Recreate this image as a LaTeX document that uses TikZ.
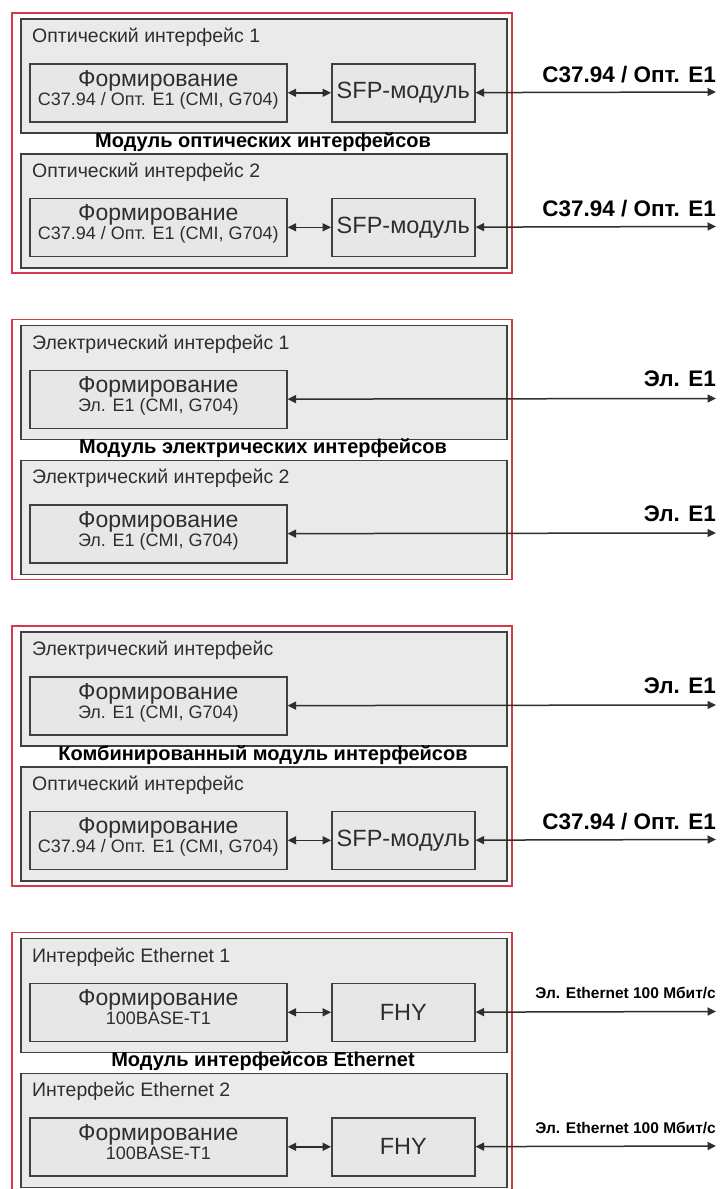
\documentclass[tikz,border=0pt]{standalone}
\usepackage{fontspec}
\setmainfont{Liberation Sans}
\usetikzlibrary{arrows.meta}

\definecolor{redframe}{HTML}{D8394A}
\definecolor{panelfill}{HTML}{EAEAEA}
\definecolor{boxfill}{HTML}{E7E7E7}
\definecolor{edge}{HTML}{3C423E}
\definecolor{ink}{HTML}{2E2E2E}

\newcommand\fsz[1]{\fontsize{#1}{#1}\selectfont}

\tikzset{
  frame/.style={draw=redframe, line width=1.4pt},
  panel/.style={draw=edge, fill=panelfill, line width=1.8pt, anchor=north west,
    minimum width=486pt, minimum height=114pt, inner sep=0pt},
  formbox/.style={draw=edge, fill=boxfill, line width=1.6pt, anchor=north west,
    minimum width=257pt, minimum height=58pt, inner sep=0pt},
  sfpbox/.style={formbox, minimum width=143pt, font=\fsz{23.5}, text=ink},
  paneltitle/.style={anchor=base west, inner sep=0pt, font=\fsz{19.5}, text=ink},
  modtitle/.style={anchor=base, inner sep=0pt, font=\bfseries\fsz{20}, text=black},
  formmain/.style={anchor=base, inner sep=0pt, font=\fsz{23}, text=ink},
  formsub/.style={anchor=base, inner sep=0pt, font=\fsz{18}, text=ink},
  linelabel/.style={anchor=base east, inner sep=0pt, font=\bfseries\fsz{22.5}, text=black},
  ethlabel/.style={anchor=base east, inner sep=0pt, font=\bfseries\fsz{15.5}, text=black},
  link/.style={draw=ink, line width=1.5pt,
    {Triangle[length=8.5pt,width=8pt]}-{Triangle[length=8.5pt,width=8pt]}},
}

\begin{document}
\begin{tikzpicture}[x=1pt,y=-1pt]
\useasboundingbox (0,0) rectangle (721,1189);
\clip (0,0) rectangle (721,1189);

% ---------- optical interface module ----------
\draw[frame] (12,13) rectangle (512,273);
\node[panel] (p1a) at (20,18) {};
\node[paneltitle] (t1a) at (32,42.5) {Оптический интерфейс 1};
\node[formbox] (f1a) at (29,63) {};
\node[formmain] (f1am) at ([yshift=-23pt]f1a.north) {Формирование};
\node[formsub] (f1as) at ([yshift=-42pt]f1a.north) {C37.94 / Опт. E1 (CMI, G704)};
\node[sfpbox] (s1a) at (331,63) {SFP-модуль};
\coordinate (e1a) at (716,92);
\node[linelabel] (l1a) at (716,82) {C37.94 / Опт. E1};
\draw[link] (f1a) -- (s1a);
\draw[link] (s1a) -- (e1a);

\node[modtitle] (m1) at (263,147) {Модуль оптических интерфейсов};

\node[panel] (p1b) at (20,153) {};
\node[paneltitle] (t1b) at (32,177) {Оптический интерфейс 2};
\node[formbox] (f1b) at (29,197.5) {};
\node[formmain] (f1bm) at ([yshift=-23pt]f1b.north) {Формирование};
\node[formsub] (f1bs) at ([yshift=-42pt]f1b.north) {C37.94 / Опт. E1 (CMI, G704)};
\node[sfpbox] (s1b) at (331,197.5) {SFP-модуль};
\coordinate (e1b) at (716,226.5);
\node[linelabel] (l1b) at (716,216.5) {C37.94 / Опт. E1};
\draw[link] (f1b) -- (s1b);
\draw[link] (s1b) -- (e1b);

% ---------- electrical interface module ----------
\begin{scope}[yshift=-306.5pt]
\draw[frame] (12,13) rectangle (512,273);
\node[panel] (p2a) at (20,18) {};
\node[paneltitle] (t2a) at (32,42.5) {Электрический интерфейс 1};
\node[formbox] (f2a) at (29,63) {};
\node[formmain] (f2am) at ([yshift=-23pt]f2a.north) {Формирование};
\node[formsub] (f2as) at ([yshift=-42pt]f2a.north) {Эл. E1 (CMI, G704)};
\coordinate (e2a) at (716,92);
\node[linelabel] (l2a) at (716,80) {Эл. E1};
\draw[link] (f2a) -- (e2a);

\node[modtitle] (m2) at (263,147) {Модуль электрических интерфейсов};

\node[panel] (p2b) at (20,153) {};
\node[paneltitle] (t2b) at (32,177) {Электрический интерфейс 2};
\node[formbox] (f2b) at (29,197.5) {};
\node[formmain] (f2bm) at ([yshift=-23pt]f2b.north) {Формирование};
\node[formsub] (f2bs) at ([yshift=-42pt]f2b.north) {Эл. E1 (CMI, G704)};
\coordinate (e2b) at (716,226.5);
\node[linelabel] (l2b) at (716,214.5) {Эл. E1};
\draw[link] (f2b) -- (e2b);
\end{scope}

% ---------- combined interface module ----------
\begin{scope}[yshift=-613pt]
\draw[frame] (12,13) rectangle (512,273);
\node[panel] (p3a) at (20,18) {};
\node[paneltitle] (t3a) at (32,42.5) {Электрический интерфейс};
\node[formbox] (f3a) at (29,63) {};
\node[formmain] (f3am) at ([yshift=-23pt]f3a.north) {Формирование};
\node[formsub] (f3as) at ([yshift=-42pt]f3a.north) {Эл. E1 (CMI, G704)};
\coordinate (e3a) at (716,92);
\node[linelabel] (l3a) at (716,80) {Эл. E1};
\draw[link] (f3a) -- (e3a);

\node[modtitle] (m3) at (263,147) {Комбинированный модуль интерфейсов};

\node[panel] (p3b) at (20,153) {};
\node[paneltitle] (t3b) at (32,177) {Оптический интерфейс};
\node[formbox] (f3b) at (29,197.5) {};
\node[formmain] (f3bm) at ([yshift=-23pt]f3b.north) {Формирование};
\node[formsub] (f3bs) at ([yshift=-42pt]f3b.north) {C37.94 / Опт. E1 (CMI, G704)};
\node[sfpbox] (s3b) at (331,197.5) {SFP-модуль};
\coordinate (e3b) at (716,226.5);
\node[linelabel] (l3b) at (716,216.5) {C37.94 / Опт. E1};
\draw[link] (f3b) -- (s3b);
\draw[link] (s3b) -- (e3b);
\end{scope}

% ---------- Ethernet interface module ----------
\begin{scope}[yshift=-919.5pt]
\draw[frame] (12,13) rectangle (512,280);
\node[panel] (p4a) at (20,18) {};
\node[paneltitle] (t4a) at (32,42.5) {Интерфейс Ethernet 1};
\node[formbox] (f4a) at (29,63) {};
\node[formmain] (f4am) at ([yshift=-23pt]f4a.north) {Формирование};
\node[formsub] (f4as) at ([yshift=-42pt]f4a.north) {100BASE-T1};
\node[sfpbox] (h4a) at (331,63) {FHY};
\coordinate (e4a) at (716,92);
\node[ethlabel] (l4a) at (716,79) {Эл. Ethernet 100 Мбит/с};
\draw[link] (f4a) -- (h4a);
\draw[link] (h4a) -- (e4a);

\node[modtitle] (m4) at (263,147) {Модуль интерфейсов Ethernet};

\node[panel] (p4b) at (20,153) {};
\node[paneltitle] (t4b) at (32,177) {Интерфейс Ethernet 2};
\node[formbox] (f4b) at (29,197.5) {};
\node[formmain] (f4bm) at ([yshift=-23pt]f4b.north) {Формирование};
\node[formsub] (f4bs) at ([yshift=-42pt]f4b.north) {100BASE-T1};
\node[sfpbox] (h4b) at (331,197.5) {FHY};
\coordinate (e4b) at (716,226.5);
\node[ethlabel] (l4b) at (716,213.5) {Эл. Ethernet 100 Мбит/с};
\draw[link] (f4b) -- (h4b);
\draw[link] (h4b) -- (e4b);
\end{scope}
\end{tikzpicture}
\end{document}
